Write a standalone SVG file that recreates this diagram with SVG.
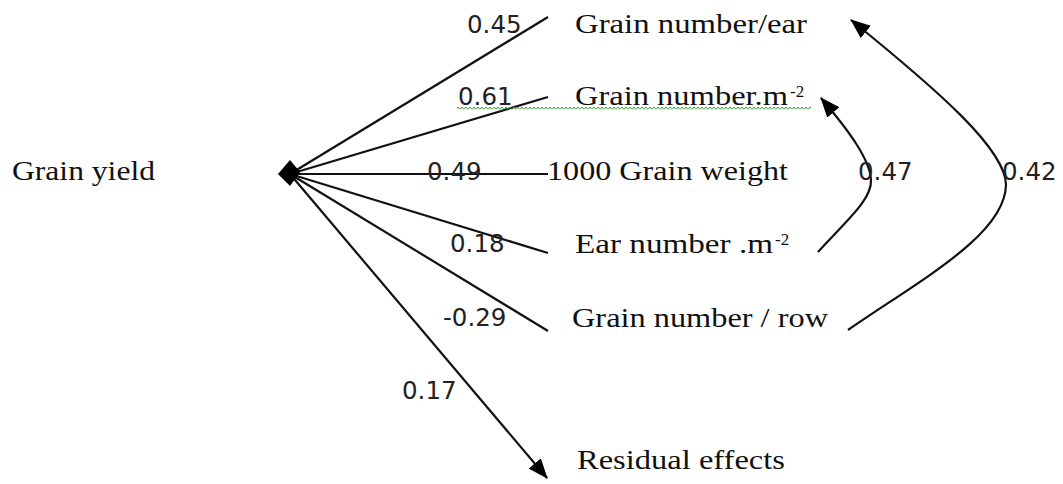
<svg xmlns="http://www.w3.org/2000/svg" width="1063" height="484" viewBox="0 0 1063 484">
  <style>
    .lbl { font-family: "Liberation Serif", "Times New Roman", serif; font-size: 28px; fill: #111; }
    .sup { font-family: "Liberation Serif", "Times New Roman", serif; font-size: 17px; fill: #111; }
    .num { font-family: "DejaVu Sans", Verdana, sans-serif; font-size: 24.5px; fill: #222; }
    .edge { stroke: #111; stroke-width: 2.2; fill: none; }
  </style>
  <defs>
    <marker id="arrow" markerUnits="userSpaceOnUse" viewBox="0 0 20 16" refX="19" refY="8" markerWidth="20" markerHeight="16" orient="auto">
      <path d="M0,0 L20,8 L0,16 Z" fill="#000"/>
    </marker>
    <pattern id="squiggle" patternUnits="userSpaceOnUse" x="0" y="106" width="4" height="5">
      <path d="M0,3.5 L2,1 L4,3.5" stroke="#3a9a3a" stroke-width="1" fill="none"/>
    </pattern>
  </defs>

  <rect width="1063" height="484" fill="#fff"/>

  <g id="connectors">
    <line class="edge" x1="290" y1="174" x2="548" y2="17"/>
    <line class="edge" x1="290" y1="174" x2="548" y2="97"/>
    <line class="edge" x1="290" y1="174" x2="548" y2="174"/>
    <line class="edge" x1="290" y1="174" x2="548" y2="253"/>
    <line class="edge" x1="290" y1="174" x2="548" y2="331"/>
    <line class="edge" x1="290" y1="174" x2="547" y2="478" marker-end="url(#arrow)"/>
    <path class="edge" d="M818,252 C845,222 872,200 871,180 C870,160 850,132 821,98" marker-end="url(#arrow)"/>
    <path class="edge" d="M848,330 C920,280 1005,235 1006,185 C1006,150 940,92 851,20" marker-end="url(#arrow)"/>
  </g>

  <g id="edge-labels">
    <text class="num" x="467" y="33">0.45</text>
    <text class="num" x="458" y="105">0.61</text>
    <text class="num" x="427" y="180">0.49</text>
    <text class="num" x="450" y="252">0.18</text>
    <text class="num" x="443" y="326">-0.29</text>
    <text class="num" x="402" y="399">0.17</text>
    <text class="num" x="858" y="180">0.47</text>
    <text class="num" x="1002" y="180">0.42</text>
  </g>

  <g id="grain-yield">
    <polygon points="278,174 290,160 300,172 290,186" fill="#000"/>
    <text class="lbl" x="12" y="180" textLength="143" lengthAdjust="spacingAndGlyphs">Grain yield</text>
  </g>

  <g id="grain-number-ear">
    <text class="lbl" x="575" y="33" textLength="232" lengthAdjust="spacingAndGlyphs">Grain number/ear</text>
  </g>

  <g id="grain-number-m2">
    <rect x="457" y="106" width="354" height="5" fill="url(#squiggle)"/>
    <text class="lbl" x="575" y="105" textLength="213" lengthAdjust="spacingAndGlyphs">Grain number.m</text>
    <text class="sup" x="790" y="97">-2</text>
  </g>

  <g id="grain-weight">
    <text class="lbl" x="547" y="180" textLength="241" lengthAdjust="spacingAndGlyphs">1000 Grain weight</text>
  </g>

  <g id="ear-number">
    <text class="lbl" x="575" y="253" textLength="198" lengthAdjust="spacingAndGlyphs">Ear number .m</text>
    <text class="sup" x="775" y="245">-2</text>
  </g>

  <g id="grain-number-row">
    <text class="lbl" x="572" y="327" textLength="256" lengthAdjust="spacingAndGlyphs">Grain number / row</text>
  </g>

  <g id="residual">
    <text class="lbl" x="577" y="469" textLength="208" lengthAdjust="spacingAndGlyphs">Residual effects</text>
  </g>
</svg>
